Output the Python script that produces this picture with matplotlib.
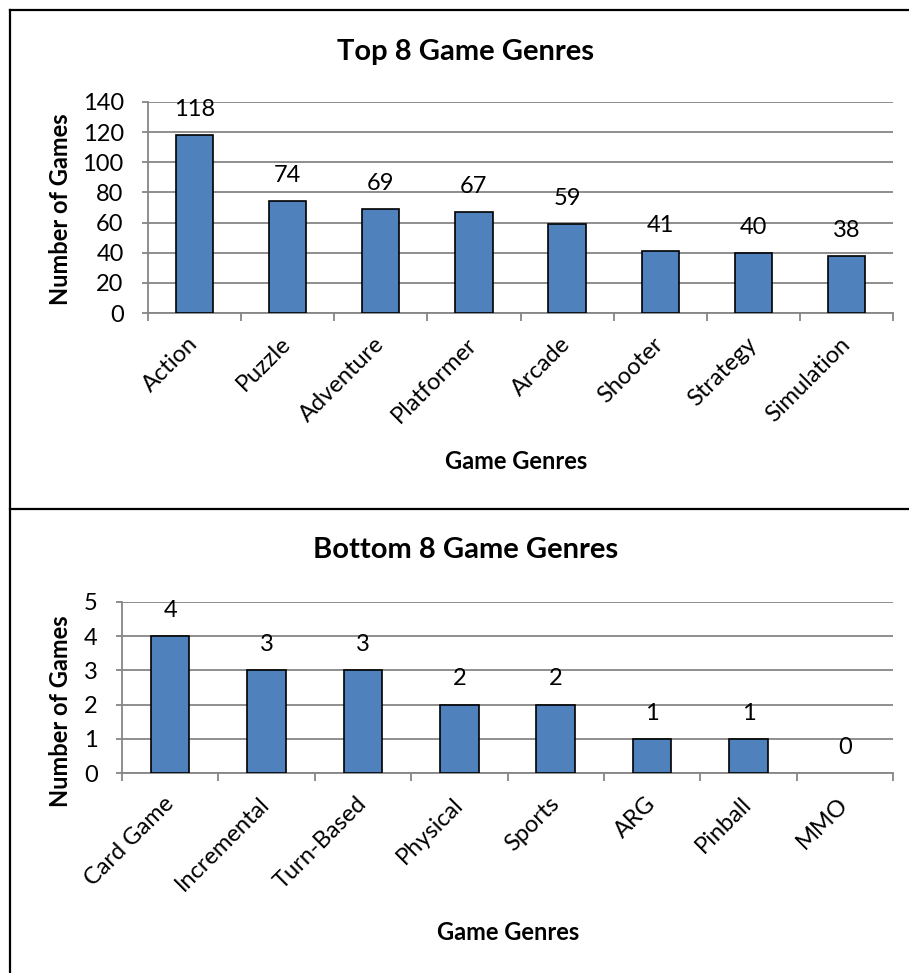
import matplotlib
matplotlib.use('Agg')
import matplotlib.pyplot as plt
from matplotlib.lines import Line2D

plt.rcParams['font.family'] = ['Lato', 'DejaVu Sans']

# ── Data ──────────────────────────────────────────────────────────────────────
top_genres    = ['Action', 'Puzzle', 'Adventure', 'Platformer', 'Arcade',
                 'Shooter', 'Strategy', 'Simulation']
top_counts    = [118, 74, 69, 67, 59, 41, 40, 38]
top_yticks    = [0, 20, 40, 60, 80, 100, 120, 140]

bottom_genres = ['Card Game', 'Incremental', 'Turn-Based', 'Physical', 'Sports',
                 'ARG', 'Pinball', 'MMO']
bottom_counts = [4, 3, 3, 2, 2, 1, 1, 0]
bottom_yticks = [0, 1, 2, 3, 4, 5]

BAR   = '#4F81BD'
GRID  = '#868686'
FS    = 17
W, H  = 909, 973

fig = plt.figure(figsize=(W / 100, H / 100), dpi=100)


def px_axes(left, top, right, bottom):
    return fig.add_axes([left / W, 1 - bottom / H, (right - left) / W, (bottom - top) / H])


def draw_panel(ax, genres, counts, yticks):
    n = len(genres)
    xs = list(range(n))
    # zero-height bars get no outline
    lws = [1.2 if v else 0 for v in counts]
    ax.bar(xs, counts, width=0.4, color=BAR, edgecolor='black', linewidth=lws, zorder=3)
    for x, v in zip(xs, counts):
        ax.annotate(f"{v}", (x, v), xytext=(0, 18.5), textcoords='offset points',
                    ha='center', va='center', fontsize=FS)
    ax.set_xlim(-0.5, n - 0.5)
    ax.set_ylim(yticks[0], yticks[-1])
    ax.set_yticks(yticks)
    ax.yaxis.grid(True, color=GRID, lw=1.3, zorder=0)
    ax.set_axisbelow(True)
    # tick marks sit at category boundaries, labels at category centres
    ax.set_xticks([i - 0.5 for i in range(n + 1)])
    ax.set_xticklabels([])
    ax.set_xticks(xs, genres, minor=True)
    ax.tick_params(axis='x', which='major', length=6, width=1.3, color=GRID, direction='out')
    ax.tick_params(axis='x', which='minor', length=0, pad=20, labelsize=FS)
    ax.tick_params(axis='y', length=4.5, width=1.3, color=GRID, pad=13, labelsize=FS)
    for lab in ax.get_xticklabels(minor=True):
        lab.set_rotation(45)
        lab.set_ha('right')
        lab.set_va('center')
        lab.set_rotation_mode('anchor')
    for s in ('top', 'right'):
        ax.spines[s].set_visible(False)
    for s in ('left', 'bottom'):
        ax.spines[s].set_color(GRID)
        ax.spines[s].set_linewidth(1.3)


# ── Top 8 ─────────────────────────────────────────────────────────────────────
ax1 = px_axes(148, 102, 893, 313)
draw_panel(ax1, top_genres, top_counts, top_yticks)
fig.text(466 / W, 1 - 52 / H, 'Top 8 Game Genres', ha='center', va='center',
         fontsize=21, fontweight='bold')
fig.text(61 / W, 1 - 209 / H, 'Number of Games', ha='center', va='center',
         rotation=90, fontsize=FS, fontweight='bold')
fig.text(516 / W, 1 - 462 / H, 'Game Genres', ha='center', va='center',
         fontsize=FS, fontweight='bold')

# ── Bottom 8 ──────────────────────────────────────────────────────────────────
ax2 = px_axes(122, 602, 893, 773)
draw_panel(ax2, bottom_genres, bottom_counts, bottom_yticks)
fig.text(466 / W, 1 - 550 / H, 'Bottom 8 Game Genres', ha='center', va='center',
         fontsize=21, fontweight='bold')
fig.text(61 / W, 1 - 711 / H, 'Number of Games', ha='center', va='center',
         rotation=90, fontsize=FS, fontweight='bold')
fig.text(508 / W, 1 - 933 / H, 'Game Genres', ha='center', va='center',
         fontsize=FS, fontweight='bold')

# chart area borders
for xd, yd in [([10, 10], [10, H]), ([10, W], [10, 10]), ([10, W], [509, 509])]:
    fig.add_artist(Line2D([x / W for x in xd], [1 - y / H for y in yd],
                          color='black', lw=1.6))

plt.savefig('out.png', dpi=100)
